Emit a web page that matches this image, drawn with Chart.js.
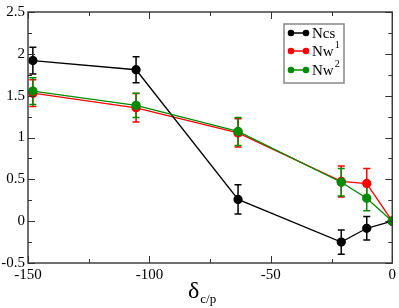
<!DOCTYPE html>
<html>
<head>
<meta charset="utf-8">
<script src="https://cdn.jsdelivr.net/npm/chart.js@4"></script>
<style>
  html, body { margin: 0; padding: 0; background: #fff; }
  #wrap { width: 399px; height: 308px; position: relative; }
</style>
</head>
<body>
<div id="wrap"><canvas id="c"></canvas></div>
<script>
// ---- data ----
const xValues   = [-148, -105.5, -63.5, -21, -10.5, 0];
const ncsValues = [1.92, 1.81, 0.26, -0.25, -0.085, 0];
const ncsErr    = [0.16, 0.155, 0.175, 0.145, 0.14, 0];
const nw1Values = [1.53, 1.355, 1.055, 0.475, 0.45, 0];
const nw1Err    = [0.16, 0.17, 0.17, 0.185, 0.18, 0];
const nw2Values = [1.555, 1.384, 1.072, 0.465, 0.275, 0];
const nw2Err    = [0.16, 0.145, 0.168, 0.165, 0.15, 0];
const seriesNames = ['Ncs', 'Nw', 'Nw'];
const seriesSup   = ['', '1', '2'];
const xMajorTicks = [-150, -100, -50, 0];
const xMinorTicks = [-125, -75, -25];
const yMajorTicks = [-0.5, 0, 0.5, 1, 1.5, 2, 2.5];
const yMinorTicks = [-0.25, 0.25, 0.75, 1.25, 1.75, 2.25];

const COLORS = ['#000000', '#ff0000', '#008b00'];
const SERIF = "'Liberation Serif', 'Times New Roman', Times, serif";

function pts(vals) { return xValues.map((x, i) => ({ x: x, y: vals[i] })); }

const errs = [ncsErr, nw1Err, nw2Err];

const errorBarPlugin = {
  id: 'errorBars',
  beforeDatasetsDraw(chart) {
    const ctx = chart.ctx;
    const xs = chart.scales.x, ys = chart.scales.y;
    chart.data.datasets.forEach((ds, di) => {
      const e = errs[di];
      ctx.save();
      ctx.strokeStyle = ds.borderColor;
      ctx.lineWidth = 1.5;
      ds.data.forEach((p, i) => {
        if (!e[i]) return;
        const px = xs.getPixelForValue(p.x);
        const top = ys.getPixelForValue(p.y + e[i]);
        const bot = ys.getPixelForValue(p.y - e[i]);
        ctx.beginPath();
        ctx.moveTo(px, top); ctx.lineTo(px, bot);
        ctx.moveTo(px - 3.5, top); ctx.lineTo(px + 3.5, top);
        ctx.moveTo(px - 3.5, bot); ctx.lineTo(px + 3.5, bot);
        ctx.stroke();
      });
      ctx.restore();
    });
  }
};

const framePlugin = {
  id: 'frame',
  afterDraw(chart) {
    const ctx = chart.ctx;
    const a = chart.chartArea;
    const xs = chart.scales.x, ys = chart.scales.y;
    ctx.save();
    ctx.strokeStyle = '#333';
    ctx.lineWidth = 1.4;
    ctx.strokeRect(a.left, a.top, a.right - a.left, a.bottom - a.top);
    ctx.lineWidth = 1;
    ctx.beginPath();
    const tick = (vals, len) => {
      vals.forEach(v => {
        const px = Math.round(xs.getPixelForValue(v)) + 0.5;
        ctx.moveTo(px, a.bottom); ctx.lineTo(px, a.bottom - len);
        ctx.moveTo(px, a.top); ctx.lineTo(px, a.top + len);
      });
    };
    const ytick = (vals, len) => {
      vals.forEach(v => {
        const py = Math.round(ys.getPixelForValue(v)) + 0.5;
        ctx.moveTo(a.left, py); ctx.lineTo(a.left + len, py);
        ctx.moveTo(a.right, py); ctx.lineTo(a.right - len, py);
      });
    };
    tick(xMajorTicks, 7); tick(xMinorTicks, 4);
    ytick(yMajorTicks, 7); ytick(yMinorTicks, 4);
    ctx.stroke();

    // x axis title: delta with subscript
    ctx.fillStyle = '#000';
    ctx.textBaseline = 'alphabetic';
    ctx.textAlign = 'left';
    ctx.font = '24px ' + SERIF;
    const dx = 188, dy = 298;
    ctx.fillText('δ', dx, dy);
    const w = ctx.measureText('δ').width;
    ctx.font = '13px ' + SERIF;
    ctx.fillText('c/p', dx + w + 1, dy + 5);

    // legend
    const lx = 284, ly = 24, lw = 60, lh = 59;
    ctx.fillStyle = '#fff';
    ctx.fillRect(lx, ly, lw, lh);
    ctx.strokeStyle = '#888';
    ctx.lineWidth = 1.5;
    ctx.strokeRect(lx, ly, lw, lh);
    const rows = [33, 51, 70];
    chart.data.datasets.forEach((ds, i) => {
      const ry = rows[i];
      ctx.strokeStyle = ds.borderColor;
      ctx.fillStyle = ds.borderColor;
      ctx.lineWidth = 1.5;
      ctx.beginPath();
      ctx.moveTo(291, ry); ctx.lineTo(306, ry);
      ctx.stroke();
      [291, 306].forEach(cx => {
        ctx.beginPath(); ctx.arc(cx, ry, 3.3, 0, Math.PI * 2); ctx.fill();
      });
      ctx.fillStyle = '#000';
      ctx.font = '15px ' + SERIF;
      ctx.fillText(seriesNames[i], 312, ry + 5);
      if (seriesSup[i]) {
        const nw = ctx.measureText(seriesNames[i]).width;
        ctx.font = '10px ' + SERIF;
        ctx.fillText(seriesSup[i], 312 + nw + 1, ry - 3);
      }
    });
    ctx.restore();
  }
};

const mkDs = (label, vals, color, order) => ({
  label: label,
  data: pts(vals),
  borderColor: color,
  backgroundColor: color,
  pointBackgroundColor: color,
  pointBorderColor: color,
  pointRadius: 4,
  pointHoverRadius: 4,
  borderWidth: 1.3,
  tension: 0,
  order: order
});

new Chart(document.getElementById('c'), {
  type: 'line',
  data: {
    datasets: [
      mkDs('Ncs', ncsValues, COLORS[0], 1),
      mkDs('Nw1', nw1Values, COLORS[1], 2),
      mkDs('Nw2', nw2Values, COLORS[2], 0)
    ]
  },
  options: {
    responsive: true,
    maintainAspectRatio: false,
    animation: false,
    events: [],
    layout: { padding: { top: 6, right: 4, left: 0, bottom: 0 } },
    plugins: { legend: { display: false }, tooltip: { enabled: false } },
    scales: {
      x: {
        type: 'linear', min: -150, max: 0,
        grid: { display: false, drawTicks: false },
        border: { display: false },
        ticks: {
          stepSize: 50, padding: 3, color: '#000',
          font: { family: SERIF, size: 15 },
          maxRotation: 0,
          callback: v => String(Math.round(v))
        },
        afterFit: s => { s.height = 45; }
      },
      y: {
        type: 'linear', min: -0.5, max: 2.5,
        grid: { display: false, drawTicks: false },
        border: { display: false },
        ticks: {
          stepSize: 0.5, padding: 3, color: '#000',
          font: { family: SERIF, size: 15 },
          callback: v => String(Number(v.toFixed(2)))
        },
        afterFit: s => { s.width = 28; }
      }
    }
  },
  plugins: [errorBarPlugin, framePlugin]
});
</script>
</body>
</html>
